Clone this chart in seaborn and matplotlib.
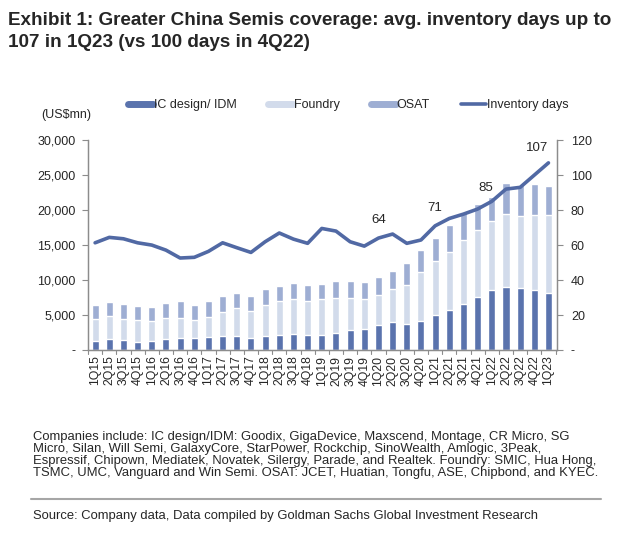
import numpy as np
import pandas as pd
import seaborn as sns
import matplotlib.pyplot as plt
from matplotlib.lines import Line2D
from matplotlib.ticker import FuncFormatter

# Quarterly data (US$mn and days)
quarters = ['1Q15', '2Q15', '3Q15', '4Q15', '1Q16', '2Q16', '3Q16', '4Q16',
            '1Q17', '2Q17', '3Q17', '4Q17', '1Q18', '2Q18', '3Q18', '4Q18',
            '1Q19', '2Q19', '3Q19', '4Q19', '1Q20', '2Q20', '3Q20', '4Q20',
            '1Q21', '2Q21', '3Q21', '4Q21', '1Q22', '2Q22', '3Q22', '4Q22', '1Q23']
ic_design = [1330, 1570, 1430, 1100, 1330, 1570, 1760, 1670,
             1860, 2050, 2000, 1700, 2050, 2200, 2240, 2100,
             2100, 2450, 2860, 2950, 3570, 4050, 3670, 4200,
             5000, 5750, 6600, 7550, 8600, 9060, 8870, 8600, 8200]
foundry = [3170, 3290, 3070, 3200, 2870, 3030, 2840, 2630,
           2900, 3450, 3950, 3900, 4450, 4800, 5060, 4900,
           5200, 5050, 4540, 4350, 4230, 4710, 5630, 6900,
           7700, 8310, 9100, 9550, 9800, 10340, 10280, 10700, 11100]
osat = [1900, 1940, 2100, 2000, 1900, 2100, 2350, 2100,
        2290, 2200, 2150, 2160, 2200, 2150, 2300, 2300,
        2200, 2400, 2500, 2400, 2600, 2540, 3100, 3200,
        3300, 3740, 4000, 3800, 3500, 4500, 4450, 4400, 4200]
inventory_days = [61.3, 64.4, 63.6, 61.3, 60.0, 57.1, 52.6, 53.0,
                  56.4, 61.3, 58.5, 55.8, 61.9, 66.9, 63.4, 61.0,
                  69.5, 68.0, 61.9, 59.4, 64.0, 66.3, 61.0, 62.9,
                  71.0, 75.2, 77.7, 80.6, 85.0, 92.0, 93.0, 100.0, 107.0]
labelled = {'1Q20': 64, '1Q21': 71, '1Q22': 85, '1Q23': 107}

c_ic = '#5a73ad'
c_foundry = '#d2dbeb'
c_osat = '#9eaed3'
c_line = '#5169a4'
c_axis = '#8c8c8c'

df = pd.DataFrame({'quarter': quarters, 'ic': ic_design, 'foundry': foundry,
                   'osat': osat, 'days': inventory_days})
df['ic_foundry'] = df['ic'] + df['foundry']
df['total'] = df['ic_foundry'] + df['osat']

sns.set_style('white')
plt.rcParams['font.family'] = ['Liberation Sans', 'DejaVu Sans']

fig = plt.figure(figsize=(6.23, 5.41), dpi=100)
ax = fig.add_axes([0.1413, 0.353, 0.7527, 0.388])

# Stacked bars: draw cumulative totals back to front
sns.barplot(data=df, x='quarter', y='total', color=c_osat, width=0.5,
            saturation=1, ax=ax)
sns.barplot(data=df, x='quarter', y='ic_foundry', color=c_foundry, width=0.5,
            saturation=1, ax=ax)
sns.barplot(data=df, x='quarter', y='ic', color=c_ic, width=0.5,
            saturation=1, ax=ax)

ax.set_ylim(0, 30000)
ax.set_xlim(-0.5, 32.6)
ax.set_yticks(range(0, 30001, 5000))
ax.yaxis.set_major_formatter(FuncFormatter(lambda v, p: '-' if v == 0 else f'{int(v):,}'))
ax.set_xlabel('')
ax.set_ylabel('')
ax.set_xticks(np.arange(len(quarters)))
ax.set_xticklabels(quarters, rotation=90, fontsize=8.8)
ax.tick_params(axis='x', length=0, pad=4)
ax.tick_params(axis='y', labelsize=9, length=4, color=c_axis, direction='out', left=True, pad=5)
# category separators below the axis
for i in range(len(quarters) + 1):
    ax.plot([i - 0.5, i - 0.5], [0, -500], color=c_axis, lw=0.8, clip_on=False)

# Inventory days on the secondary axis
ax2 = ax.twinx()
sns.lineplot(x=np.arange(len(quarters)), y=df['days'], color=c_line, lw=2.6, ax=ax2)
ax2.set_ylim(0, 120)
ax2.set_yticks(range(0, 121, 20))
ax2.yaxis.set_major_formatter(FuncFormatter(lambda v, p: '-' if v == 0 else f'{int(v)}'))
ax2.tick_params(axis='y', labelsize=9, length=4, color=c_axis, direction='out', right=True, pad=6)
ax2.set_ylabel('')

for a in (ax, ax2):
    a.spines['top'].set_visible(False)
    for side in ('left', 'right', 'bottom'):
        a.spines[side].set_color(c_axis)
        a.spines[side].set_linewidth(0.9)

label_shift = {'1Q20': (0, 7), '1Q21': (0, 7), '1Q22': (-0.4, 4), '1Q23': (-0.8, 5)}
for q, v in labelled.items():
    i = quarters.index(q)
    dx, dy = label_shift[q]
    ax2.text(i + dx, v + dy, str(v), ha='center', va='bottom', fontsize=9.5)

# Legend along the top
handles = [Line2D([0], [0], color=c_ic, lw=5),
           Line2D([0], [0], color=c_foundry, lw=5),
           Line2D([0], [0], color=c_osat, lw=5),
           Line2D([0], [0], color=c_line, lw=2.6)]
fig.legend(handles, ['IC design/ IDM', 'Foundry', 'OSAT', 'Inventory days'],
           loc='center', bbox_to_anchor=(0.559, 0.806), ncol=4, frameon=False,
           fontsize=9, handlelength=2.0, handletextpad=0.05, columnspacing=2.5)

fig.text(0.066, 0.787, '(US$mn)', fontsize=9, va='center')

title = ('Exhibit 1: Greater China Semis coverage: avg. inventory days up to\n'
         '107 in 1Q23 (vs 100 days in 4Q22)')
fig.text(0.013, 0.978, title, fontsize=13.6, fontweight='bold', va='top', ha='left',
         linespacing=1.4)

note = ('Companies include: IC design/IDM: Goodix, GigaDevice, Maxscend, Montage, CR Micro, SG\n'
        'Micro, Silan, Will Semi, GalaxyCore, StarPower, Rockchip, SinoWealth, Amlogic, 3Peak,\n'
        'Espressif, Chipown, Mediatek, Novatek, Silergy, Parade, and Realtek. Foundry: SMIC, Hua Hong,\n'
        'TSMC, UMC, Vanguard and Win Semi. OSAT: JCET, Huatian, Tongfu, ASE, Chipbond, and KYEC.')
fig.text(0.053, 0.203, note, fontsize=9.4, va='top', ha='left', linespacing=1.0)
fig.add_artist(Line2D([0.05, 0.965], [0.078, 0.078], color='#a6a6a6', lw=1.5))
fig.text(0.053, 0.047, 'Source: Company data, Data compiled by Goldman Sachs Global Investment Research',
         fontsize=9.4, va='center', ha='left')

fig.savefig('out.png', dpi=100)
